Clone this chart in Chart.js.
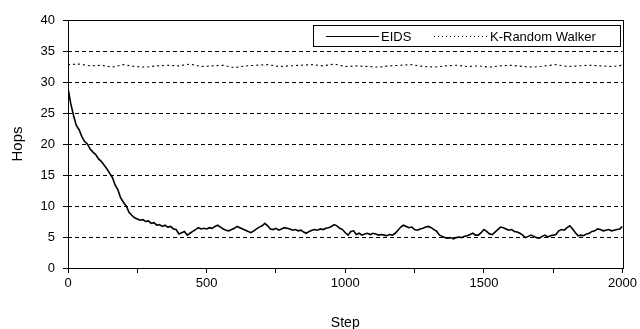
<!DOCTYPE html>
<html>
<head>
<meta charset="utf-8">
<script src="https://cdn.jsdelivr.net/npm/chart.js@4/dist/chart.umd.min.js"></script>
<style>
html,body{margin:0;padding:0;background:#fff;}
#wrap{width:640px;height:329px;position:relative;}
</style>
</head>
<body>
<div id="wrap"><canvas id="c" width="640" height="329"></canvas></div>
<script>
const seriesNames = ['EIDS', 'K-Random Walker'];
const xTickValues = [0, 500, 1000, 1500, 2000];
const yTickValues = [0, 5, 10, 15, 20, 25, 30, 35, 40];

// EIDS sampled every 10 steps, 0..2000
const eidsValues = [
29.0,26.5,24.6,23.0,22.3,21.2,20.4,20.0,19.2,18.7,
18.3,17.6,17.2,16.6,16.0,15.3,14.6,13.4,12.6,11.3,
10.6,10.0,9.0,8.5,8.1,7.9,7.7,7.8,7.5,7.6,
7.2,7.3,6.9,7.0,6.7,6.9,6.6,6.7,6.3,6.2,
5.5,5.7,5.9,5.3,5.6,5.9,6.2,6.5,6.3,6.4,
6.3,6.5,6.4,6.7,6.9,6.6,6.3,6.1,6.0,6.2,
6.4,6.7,6.5,6.3,6.1,5.9,5.7,6.0,6.3,6.6,
6.8,7.2,6.8,6.3,6.2,6.4,6.1,6.3,6.5,6.4,
6.3,6.1,6.2,6.0,6.1,5.8,5.6,5.9,6.1,6.2,
6.1,6.3,6.2,6.4,6.5,6.7,7.0,6.8,6.4,6.2,
5.7,5.3,5.9,6.0,5.4,5.6,5.3,5.5,5.6,5.4,
5.6,5.5,5.3,5.4,5.3,5.2,5.4,5.3,5.6,6.1,
6.6,6.9,6.7,6.5,6.6,6.2,6.1,6.3,6.4,6.6,
6.7,6.5,6.2,5.9,5.3,5.1,4.9,4.8,4.9,4.7,
4.9,5.0,4.9,5.1,5.2,5.4,5.6,5.3,5.3,5.7,
6.2,5.9,5.5,5.4,5.8,6.2,6.6,6.5,6.3,6.1,
6.2,5.9,5.8,5.6,5.3,4.9,5.1,5.3,5.1,4.9,
4.8,5.1,5.3,5.0,5.2,5.3,5.4,6.0,6.2,6.1,
6.5,6.8,6.3,5.7,5.2,5.3,5.2,5.5,5.6,5.9,
6.0,6.3,6.2,6.0,6.1,6.2,6.0,6.1,6.2,6.3,
6.7];
const eidsSteps = eidsValues.map((_, i) => i * 10);

// K-Random Walker sampled every 40 steps, 0..2000
const walkerValues = [32.8,32.9,32.6,32.7,32.4,32.8,32.5,32.4,32.6,32.7,32.6,32.9,32.5,32.6,32.7,32.3,32.6,32.7,32.8,32.5,32.6,32.7,32.8,32.6,32.9,32.5,32.6,32.5,32.4,32.6,32.7,32.8,32.5,32.4,32.6,32.7,32.5,32.6,32.4,32.6,32.7,32.5,32.4,32.6,32.8,32.5,32.6,32.7,32.6,32.5,32.7];
const walkerSteps = walkerValues.map((_, i) => i * 40);

const FONT = 'Liberation Sans, Arial, sans-serif';

const framePlugin = {
  id: 'frame',
  afterDatasetsDraw(chart) {
    const {ctx, chartArea: a} = chart;
    ctx.save();
    ctx.strokeStyle = '#000';
    ctx.lineWidth = 1;
    ctx.setLineDash([]);
    ctx.strokeRect(Math.round(a.left) + 0.5, Math.round(a.top) + 0.5, Math.round(a.right - a.left), Math.round(a.bottom - a.top));
    ctx.restore();
  }
};

const legendPlugin = {
  id: 'boxLegend',
  afterDraw(chart) {
    const {ctx} = chart;
    const ds = chart.data.datasets;
    const x0 = 313.5, y0 = 25.5, w = 307, h = 21;
    ctx.save();
    ctx.fillStyle = '#fff';
    ctx.fillRect(x0, y0, w, h);
    ctx.strokeStyle = '#000';
    ctx.lineWidth = 1;
    ctx.strokeRect(x0, y0, w, h);
    ctx.font = '13px ' + FONT;
    ctx.textBaseline = 'middle';
    ctx.fillStyle = '#000';
    const yc = Math.round(y0 + h / 2) + 0.5;
    ctx.beginPath();
    ctx.setLineDash([]);
    ctx.lineWidth = 1;
    ctx.strokeStyle = '#000';
    ctx.moveTo(326, yc); ctx.lineTo(379, yc); ctx.stroke();
    ctx.fillText(ds[0].label, 381, yc + 1);
    ctx.beginPath();
    ctx.setLineDash([1, 3]);
    ctx.strokeStyle = '#000';
    ctx.lineWidth = 1;
    ctx.moveTo(434, yc); ctx.lineTo(489, yc); ctx.stroke();
    ctx.setLineDash([]);
    ctx.fillText(ds[1].label, 490, yc + 1);
    ctx.restore();
  }
};

new Chart(document.getElementById('c'), {
  type: 'line',
  data: {
    datasets: [
      {
        label: seriesNames[0],
        data: eidsSteps.map((s, i) => ({x: s, y: eidsValues[i]})),
        borderColor: '#000',
        borderWidth: 1.6,
        pointRadius: 0,
        tension: 0,
        fill: false
      },
      {
        label: seriesNames[1],
        data: walkerSteps.map((s, i) => ({x: s, y: walkerValues[i]})),
        borderColor: '#000',
        borderWidth: 1.1,
        borderDash: [2, 3],
        pointRadius: 0,
        tension: 0,
        fill: false
      }
    ]
  },
  options: {
    responsive: false,
    animation: false,
    devicePixelRatio: 1,
    layout: {padding: {top: 20, right: 15, left: 0, bottom: 0}},
    plugins: {legend: {display: false}, tooltip: {enabled: false}},
    scales: {
      x: {
        type: 'linear',
        min: 0, max: 2000,
        afterFit(s) { s.height = 61; },
        border: {display: false},
        grid: {drawOnChartArea: false, drawTicks: true, tickLength: 5, color: '#000', tickColor: '#000', tickBorderDash: []},
        ticks: {
          stepSize: 250,
          autoSkip: false,
          maxRotation: 0,
          padding: 3,
          color: '#000',
          font: {family: FONT, size: 13},
          callback: v => xTickValues.includes(v) ? String(v) : ''
        },
        title: {display: true, text: 'Step', color: '#000', font: {family: FONT, size: 14}, padding: {top: 4, bottom: -3}}
      },
      y: {
        min: 0, max: 40,
        afterFit(s) { s.width = 68; },
        border: {display: false, dash: [4, 3]},
        grid: {
          drawTicks: true, tickLength: 5,
          color: ctx => (ctx.tick && (ctx.tick.value === 0 || ctx.tick.value === 40)) ? 'rgba(0,0,0,0)' : '#000',
          tickColor: '#000',
          tickBorderDash: [],
          lineWidth: 1
        },
        ticks: {
          stepSize: 5,
          padding: 8,
          color: '#000',
          font: {family: FONT, size: 13},
          callback: v => yTickValues.includes(v) ? String(v) : ''
        },
        title: {display: true, text: 'Hops', color: '#000', font: {family: FONT, size: 15}, padding: {top: 9, bottom: 0}}
      }
    }
  },
  plugins: [framePlugin, legendPlugin]
});
</script>
</body>
</html>
